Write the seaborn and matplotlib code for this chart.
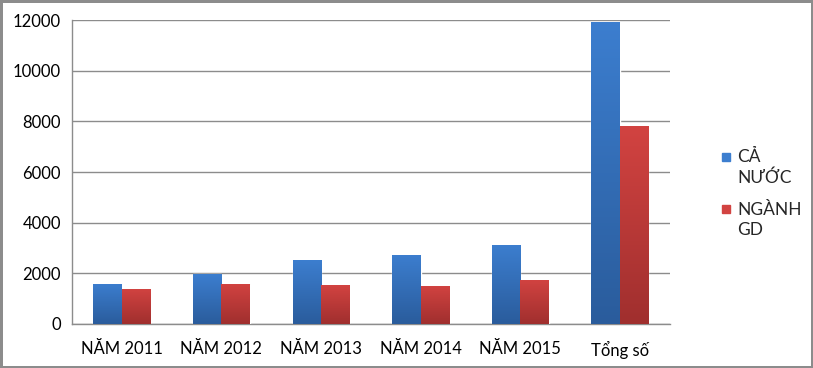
import numpy as np
import pandas as pd
import matplotlib
matplotlib.use("Agg")
import matplotlib.pyplot as plt
import seaborn as sns
from matplotlib.colors import LinearSegmentedColormap

# data
categories = ["NĂM 2011", "NĂM 2012", "NĂM 2013", "NĂM 2014", "NĂM 2015", "Tổng số"]
ca_nuoc = [1590, 1960, 2510, 2735, 3130, 11920]
nganh_gd = [1395, 1590, 1525, 1515, 1740, 7800]
series = ["CẢ\nNƯỚC", "NGÀNH\nGD"]

DF = pd.DataFrame({
    "cat": categories * 2,
    "value": ca_nuoc + nganh_gd,
    "series": [series[0]] * len(categories) + [series[1]] * len(categories),
})

sns.set_style("white")
plt.rcParams['font.family'] = ['Lato', 'DejaVu Sans']

top_colors = {series[0]: "#3C7ECF", series[1]: "#D24341"}
bot_colors = {series[0]: "#2A5C9C", series[1]: "#A02F2E"}

W, H = 813, 368
fig = plt.figure(figsize=(W / 100, H / 100), dpi=100)
ax = fig.add_axes([0.0886, 0.1196, 0.735, 0.826])

sns.barplot(data=DF, x="cat", y="value", hue="series", order=categories,
            hue_order=series, palette=top_colors, width=0.57, gap=0,
            saturation=1, errorbar=None, ax=ax, zorder=3, legend=False)

# vertical gradient on each bar, like the Excel fill
grad = np.linspace(0, 1, 256).reshape(-1, 1)
n = len(categories)
for i, p in enumerate(ax.patches[:2 * n]):
    s = series[i // n]
    cmap = LinearSegmentedColormap.from_list("g", [top_colors[s], bot_colors[s]])
    x0, y0 = p.get_x(), p.get_y()
    w, h = p.get_width(), p.get_height()
    im = ax.imshow(grad, cmap=cmap, extent=[x0, x0 + w, y0, y0 + h],
                   aspect="auto", origin="upper", zorder=3.5)
    im.set_clip_path(p)

ax.set_xlim(-0.5, n - 0.5)
ax.set_ylim(0, 12000)
ax.set_yticks(range(0, 12001, 2000))
ax.yaxis.grid(True, color="#8c8c8c", linewidth=1)
ax.set_axisbelow(True)
ax.set_xlabel("")
ax.set_ylabel("")
ax.tick_params(axis="both", length=0, labelsize=12, colors="#000000")
ax.tick_params(axis="x", pad=12)
ax.tick_params(axis="y", pad=8)
for side in ["top", "right"]:
    ax.spines[side].set_visible(False)
for side in ["left", "bottom"]:
    ax.spines[side].set_color("#8c8c8c")
    ax.spines[side].set_linewidth(1)

# legend: square next to the first line of each two-line label (Excel style)
for s, y_top in zip(series, [153, 205]):
    fig.patches.append(plt.Rectangle((722 / W, 1 - (y_top + 7.5) / H), 7.5 / W, 7.5 / H,
                                     transform=fig.transFigure, color=top_colors[s]))
    # va="baseline" pins the last line, so place the second line's baseline
    fig.text(737 / W, 1 - (y_top + 30) / H, s, fontsize=12.5, va="baseline",
             ha="left", linespacing=1.3)

fig.patch.set_edgecolor("#8c8c8c")
fig.patch.set_linewidth(2.5)

plt.savefig("out.png", dpi=100, edgecolor=fig.get_edgecolor())
